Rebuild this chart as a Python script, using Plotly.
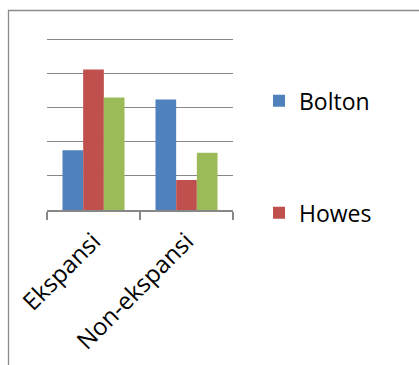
import plotly.graph_objects as go

categories = ["Ekspansi", "Non-ekspansi"]
bolton = [1.75, 3.24]
howes = [4.12, 0.88]
series3 = [3.30, 1.68]

GRID = "#878787"
FONT = "Open Sans"

W, H = 419, 365
UNIT = 34.2
YMAX = 5.1
ML, MR, MB = 47, 186, 155
MT = (H - MB) - YMAX * UNIT
PW = W - ML - MR
PH = H - MT - MB

def px_x(px):
    return (px - ML) / PW

def px_y(py):
    return (H - MB - py) / PH

fig = go.Figure()
fig.add_trace(go.Bar(name="Bolton", x=categories, y=bolton,
                     marker=dict(color="#4F81BD", line=dict(width=0)),
                     legendgroup="a"))
fig.add_trace(go.Bar(name="Howes", x=categories, y=howes,
                     marker=dict(color="#C0504D", line=dict(width=0)),
                     legendgroup="b"))
fig.add_trace(go.Bar(name="Series3", x=categories, y=series3,
                     marker=dict(color="#9BBB59", line=dict(width=0)),
                     legendgroup="c", showlegend=False))

fig.update_layout(
    width=W, height=H,
    margin=dict(l=ML, r=MR, t=MT, b=MB, pad=0, autoexpand=False),
    paper_bgcolor="white", plot_bgcolor="white",
    barmode="group", bargap=0.333, bargroupgap=0,
    font=dict(family=FONT, size=22, color="black"),
    showlegend=True,
    legend=dict(x=px_x(259), y=px_y(79), xanchor="left", yanchor="top",
                traceorder="grouped", tracegroupgap=79,
                font=dict(family=FONT, size=23, color="black"),
                bgcolor="rgba(0,0,0,0)", borderwidth=0),
    xaxis=dict(showline=True, linecolor=GRID, linewidth=1.5,
               ticks="outside", tickson="boundaries", ticklen=8,
               tickcolor=GRID, tickwidth=1.5, tickangle=-45,
               ticklabelstandoff=6, automargin=False,
               tickfont=dict(family=FONT, size=24, color="black"),
               showgrid=False, fixedrange=True),
    yaxis=dict(range=[0, YMAX], dtick=1, showticklabels=False,
               showgrid=True, gridcolor=GRID, gridwidth=1.3, automargin=False,
               zeroline=False, showline=False, ticks="", fixedrange=True),
    shapes=[dict(type="rect", xref="paper", yref="paper",
                 x0=px_x(8.5), x1=px_x(440), y0=px_y(10), y1=px_y(390),
                 line=dict(color="#8c8c8c", width=1.3), fillcolor="rgba(0,0,0,0)",
                 layer="below")],
)

fig.write_html("out.html")
